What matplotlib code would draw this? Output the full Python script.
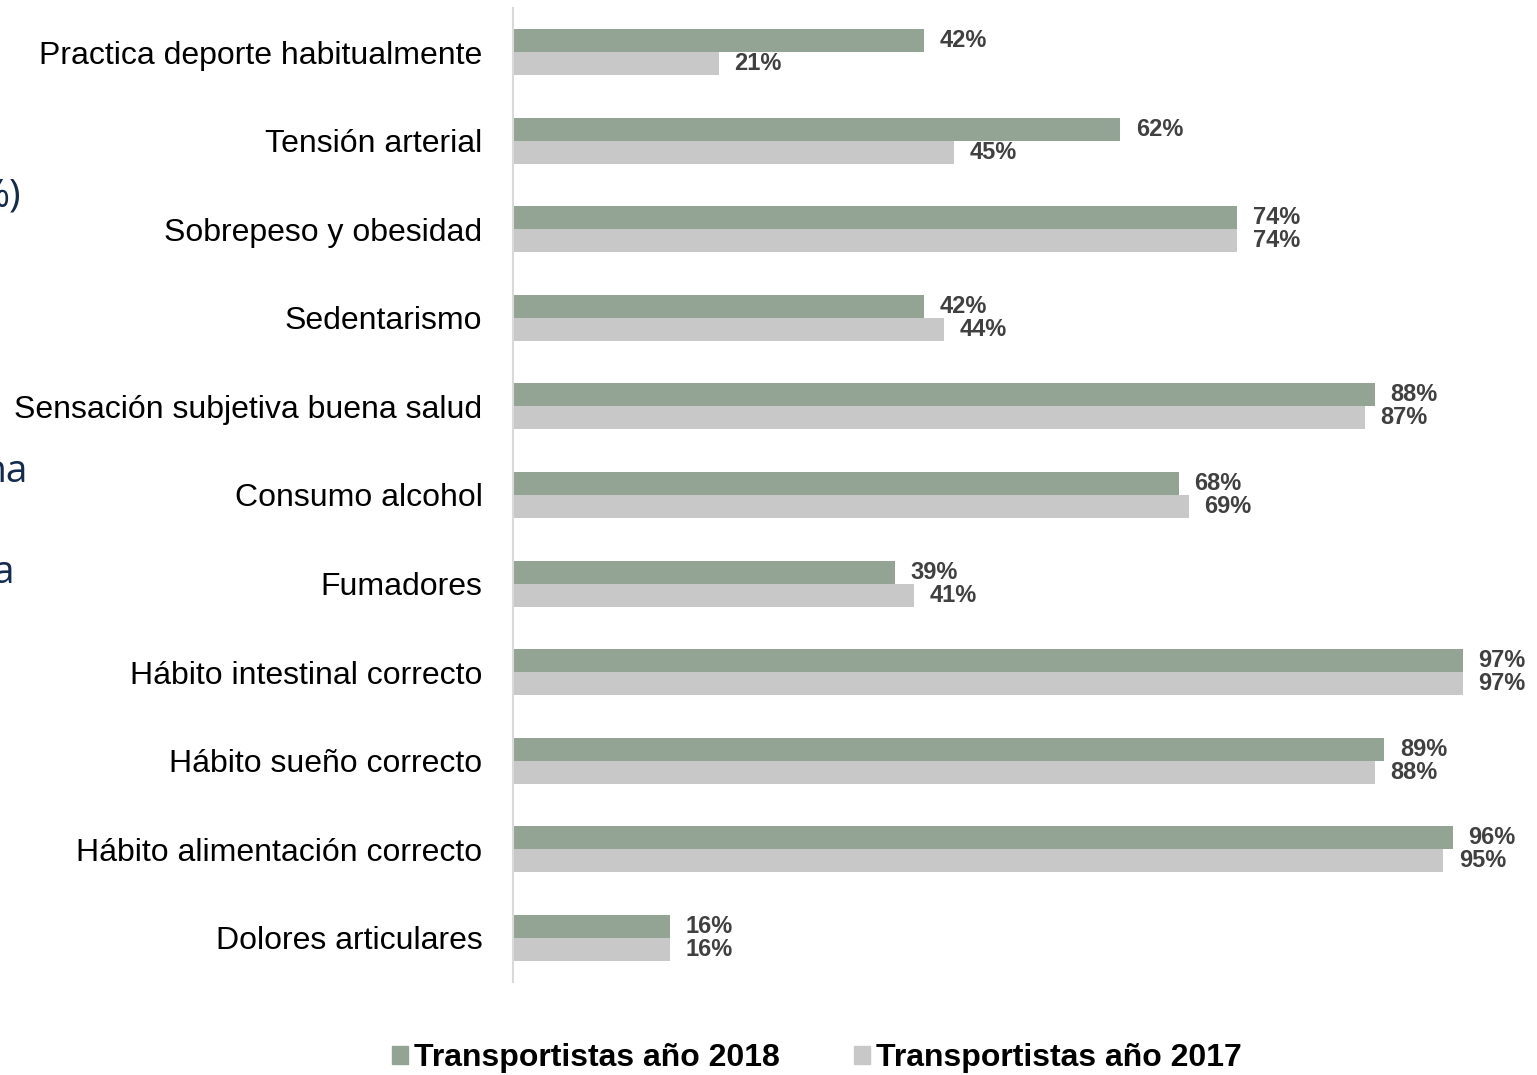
import matplotlib
matplotlib.use("Agg")
import matplotlib.pyplot as plt
import numpy as np
from matplotlib.patches import Patch

categories = ["Practica deporte habitualmente", "Tensión arterial", "Sobrepeso y obesidad",
              "Sedentarismo", "Sensación subjetiva buena salud", "Consumo alcohol",
              "Fumadores", "Hábito intestinal correcto", "Hábito sueño correcto",
              "Hábito alimentación correcto", "Dolores articulares"]
vals_2018 = [42, 62, 74, 42, 88, 68, 39, 97, 89, 96, 16]
vals_2017 = [21, 45, 74, 44, 87, 69, 41, 97, 88, 95, 16]
series_names = ["Transportistas año 2018", "Transportistas año 2017"]

c18 = "#94A494"
c17 = "#C8C8C8"

plt.rcParams['font.family'] = ['Liberation Sans', 'DejaVu Sans']

W, H = 1537, 1075
fig = plt.figure(figsize=(W/100, H/100), dpi=100)
ax = fig.add_axes([513/W, 1 - 982/H, 979/W, 974/H])

y = np.arange(len(categories))
h = 0.26
ax.barh(y - h/2, vals_2018, height=h, color=c18, label=series_names[0])
ax.barh(y + h/2, vals_2017, height=h, color=c17, label=series_names[1])

for yi, v in zip(y, vals_2018):
    ax.text(v + 1.6, yi - h/2, f"{v}%", va='center', ha='left', fontsize=17,
            fontweight='bold', color='#404040')
for yi, v in zip(y, vals_2017):
    ax.text(v + 1.6, yi + h/2, f"{v}%", va='center', ha='left', fontsize=17,
            fontweight='bold', color='#404040')

ax.set_xlim(0, 100)
ax.set_ylim(len(categories) - 0.5, -0.5)
ax.set_yticks(y)
ax.set_yticklabels(categories, fontsize=23)
ax.tick_params(axis='y', length=0, pad=22)
ax.set_xticks([])
for s in ['top', 'right', 'bottom']:
    ax.spines[s].set_visible(False)
ax.spines['left'].set_color('#D9D9D9')
ax.spines['left'].set_linewidth(1.5)

handles = [Patch(color=c18, label=series_names[0]), Patch(color=c17, label=series_names[1])]
fig.legend(handles=handles, loc='center', bbox_to_anchor=(817/W, 1 - 1058/H), ncol=2,
           frameon=False, prop={'size': 23, 'weight': 'bold'}, handlelength=0.5,
           handleheight=0.5, handletextpad=0.2, columnspacing=2.3)

navy = "#132B4F"
fig.text(21/W, 1 - 206/H, "%)", ha='right', va='baseline', fontsize=28, color=navy,
         family='Open Sans')
fig.text(28/W, 1 - 482/H, "na", ha='right', va='baseline', fontsize=28, color=navy,
         family='Open Sans')
fig.text(14/W, 1 - 583/H, "a", ha='right', va='baseline', fontsize=28, color=navy,
         family='Open Sans')

fig.savefig("out.png", dpi=100)
